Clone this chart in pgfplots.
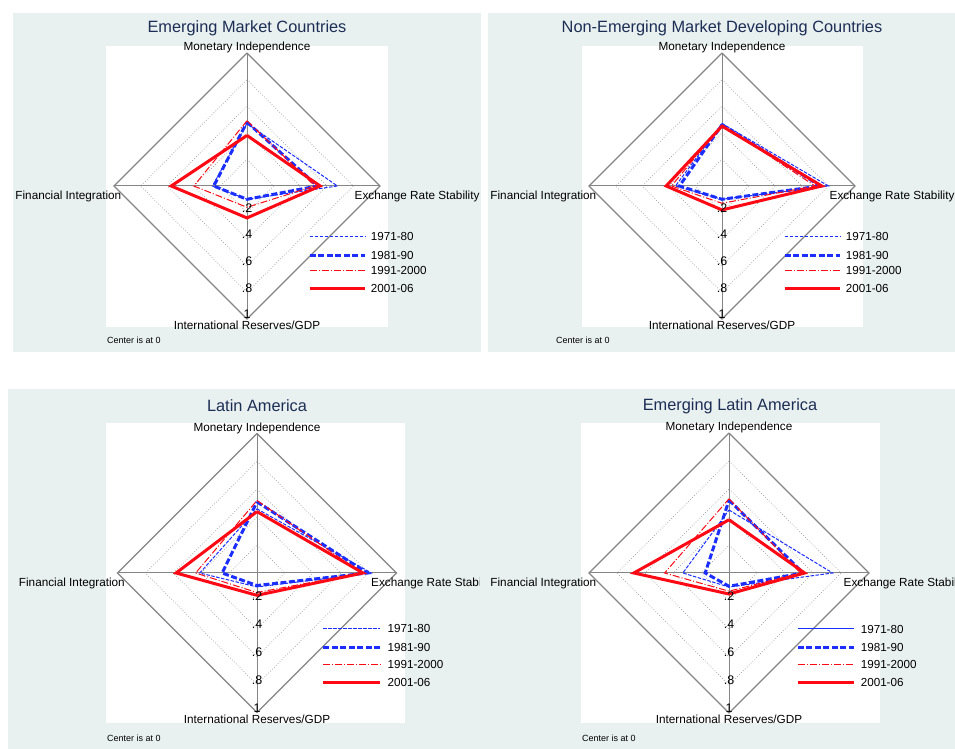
\documentclass[border=0pt]{standalone}
\usepackage{fontspec}
\setmainfont{Liberation Sans}
\usepackage{pgfplots}
\pgfplotsset{compat=1.18}

\definecolor{panelbg}{HTML}{E8F1F0}
\definecolor{titleblue}{HTML}{1E2D55}
\definecolor{sblue}{HTML}{1A2EFF}
\definecolor{sred}{HTML}{FF0A14}
\definecolor{gridc}{HTML}{9A9A9A}
\definecolor{framec}{HTML}{858585}

\tikzset{
  ptitle/.style={font=\fontsize{16.4}{18}\selectfont, text=titleblue, anchor=center, inner sep=0pt},
  note/.style={font=\fontsize{9}{10}\selectfont, anchor=west, inner sep=0pt},
  lab/.style={font=\fontsize{11.8}{13}\selectfont, inner sep=0.5bp},
  tick/.style={font=\fontsize{12.5}{13}\selectfont, inner sep=0pt, anchor=south},
  leg/.style={font=\fontsize{11.7}{13}\selectfont, inner sep=0pt, anchor=west},
}

\pgfplotsset{
  radar/.style={
    scale only axis, width=#1, height=#1,
    xmin=-1, xmax=1, ymin=-1, ymax=1,
    axis lines=none, clip=false, anchor=center,
  },
  p71/.style={color=sblue, line width=1bp, dash pattern=on 3.5bp off 1.5bp},
  p71solid/.style={color=sblue, line width=1bp},
  p81/.style={color=sblue, line width=3bp, dash pattern=on 6bp off 2.5bp},
  p91/.style={color=sred, line width=1bp, dash pattern=on 7bp off 2bp on 1bp off 2bp},
  p01/.style={color=sred, line width=3bp},
}

% diamond grid, spokes and the four axis names
\newcommand\radargrid{%
  \addplot[gridc, dotted, line width=0.7bp, forget plot] coordinates {(0,0.2) (0.2,0) (0,-0.2) (-0.2,0) (0,0.2)};
  \addplot[gridc, dotted, line width=0.7bp, forget plot] coordinates {(0,0.4) (0.4,0) (0,-0.4) (-0.4,0) (0,0.4)};
  \addplot[gridc, dotted, line width=0.7bp, forget plot] coordinates {(0,0.6) (0.6,0) (0,-0.6) (-0.6,0) (0,0.6)};
  \addplot[gridc, dotted, line width=0.7bp, forget plot] coordinates {(0,0.8) (0.8,0) (0,-0.8) (-0.8,0) (0,0.8)};
  \addplot[framec, line width=1.3bp, forget plot] coordinates {(0,1) (1,0) (0,-1) (-1,0) (0,1)};
  \addplot[framec, line width=1bp, forget plot] coordinates {(-1,0) (1,0)};
  \addplot[framec, line width=1bp, forget plot] coordinates {(0,-1) (0,1)};
  \node[lab, anchor=south, yshift=-1bp] at (axis cs:0,1) {Monetary Independence};
  \node[lab, anchor=north, yshift=-1.5bp] at (axis cs:0,-1) {International Reserves/GDP};
  \node[lab, anchor=north west, xshift=-26bp, yshift=-4bp] at (axis cs:1,0) {Exchange Rate Stability};
  \node[lab, anchor=north east, xshift=8bp, yshift=-4bp] at (axis cs:-1,0) {Financial Integration};
}
\newcommand\radarticks{%
  \node[tick] at (axis cs:0,-0.2) {.2};
  \node[tick] at (axis cs:0,-0.4) {.4};
  \node[tick] at (axis cs:0,-0.6) {.6};
  \node[tick] at (axis cs:0,-0.8) {.8};
  \node[tick] at (axis cs:0,-1) {1};
}
% legend key: #1 line start, #2 line end, #3 text x, #4-#7 row y, #8 style of the first key
\newcommand\radarlegend[8]{%
  \addplot[#8, forget plot] coordinates {(#1,#4) (#2,#4)};
  \addplot[p81, forget plot] coordinates {(#1,#5) (#2,#5)};
  \addplot[p91, forget plot] coordinates {(#1,#6) (#2,#6)};
  \addplot[p01, forget plot] coordinates {(#1,#7) (#2,#7)};
  \node[leg] at (axis cs:#3,#4) {1971-80};
  \node[leg] at (axis cs:#3,#5) {1981-90};
  \node[leg] at (axis cs:#3,#6) {1991-2000};
  \node[leg] at (axis cs:#3,#7) {2001-06};
}

\begin{document}
\begin{tikzpicture}
\useasboundingbox (0bp,0bp) rectangle (955bp,749bp);
\fill[white] (0bp,0bp) rectangle (955bp,749bp);

% ---- Emerging Market Countries
\begin{scope}
\clip (13bp,397bp) rectangle (481bp,736bp);
\fill[panelbg] (13bp,397bp) rectangle (481bp,736bp);
\fill[white] (106bp,422bp) rectangle (388bp,703bp);
\node[ptitle] at (247bp,721bp) {Emerging Market Countries};
\node[note] at (107bp,409bp) {Center is at 0};
\begin{axis}[radar=266bp, at={(247bp,563bp)}]
  \radargrid
  \addplot[p71] coordinates {(0,0.47) (0.68,0) (0,-0.10) (-0.26,0) (0,0.47)};
  \addplot[p81] coordinates {(0,0.48) (0.53,0) (0,-0.10) (-0.25,0) (0,0.48)};
  \addplot[p91] coordinates {(0,0.49) (0.51,0) (0,-0.16) (-0.40,0) (0,0.49)};
  \addplot[p01] coordinates {(0,0.38) (0.55,0) (0,-0.24) (-0.57,0) (0,0.38)};
  \radarlegend{0.47}{0.89}{0.93}{-0.383}{-0.519}{-0.639}{-0.767}{p71}
  \radarticks
\end{axis}
\end{scope}

% ---- Non-Emerging Market Developing Countries
\begin{scope}
\clip (488bp,397bp) rectangle (955bp,736bp);
\fill[panelbg] (488bp,397bp) rectangle (955bp,736bp);
\fill[white] (582bp,422bp) rectangle (863bp,703bp);
\node[ptitle] at (722bp,721bp) {Non-Emerging Market Developing Countries};
\node[note] at (556bp,409bp) {Center is at 0};
\begin{axis}[radar=266bp, at={(722bp,563bp)}]
  \radargrid
  \addplot[p71] coordinates {(0,0.47) (0.80,0) (0,-0.10) (-0.35,0) (0,0.47)};
  \addplot[p81] coordinates {(0,0.46) (0.74,0) (0,-0.10) (-0.32,0) (0,0.46)};
  \addplot[p91] coordinates {(0,0.46) (0.70,0) (0,-0.13) (-0.38,0) (0,0.46)};
  \addplot[p01] coordinates {(0,0.45) (0.75,0) (0,-0.18) (-0.42,0) (0,0.45)};
  \radarlegend{0.47}{0.89}{0.93}{-0.383}{-0.519}{-0.639}{-0.767}{p71}
  \radarticks
\end{axis}
\end{scope}

% ---- Latin America
\begin{scope}
\clip (8bp,0bp) rectangle (480bp,360bp);
\fill[panelbg] (8bp,0bp) rectangle (480bp,360bp);
\fill[white] (106bp,26bp) rectangle (405bp,326bp);
\node[ptitle] at (257bp,343bp) {Latin America};
\node[note] at (107bp,11bp) {Center is at 0};
\begin{axis}[radar=279bp, at={(257bp,176bp)}]
  \radargrid
  \addplot[p71] coordinates {(0,0.46) (0.82,0) (0,-0.10) (-0.41,0) (0,0.46)};
  \addplot[p81] coordinates {(0,0.51) (0.79,0) (0,-0.09) (-0.25,0) (0,0.51)};
  \addplot[p91] coordinates {(0,0.52) (0.75,0) (0,-0.14) (-0.44,0) (0,0.52)};
  \addplot[p01] coordinates {(0,0.44) (0.76,0) (0,-0.16) (-0.58,0) (0,0.44)};
  \radarlegend{0.475}{0.885}{0.935}{-0.40}{-0.533}{-0.655}{-0.785}{p71}
  \radarticks
\end{axis}
\end{scope}

% ---- Emerging Latin America
\begin{scope}
\clip (480bp,0bp) rectangle (955bp,360bp);
\fill[panelbg] (480bp,0bp) rectangle (955bp,360bp);
\fill[white] (581bp,26bp) rectangle (880bp,326bp);
\node[ptitle] at (730bp,343bp) {Emerging Latin America};
\node[note] at (582bp,11bp) {Center is at 0};
\begin{axis}[radar=280bp, at={(729bp,176bp)}]
  \radargrid
  \addplot[p71] coordinates {(0,0.45) (0.74,0) (0,-0.10) (-0.33,0) (0,0.45)};
  \addplot[p81] coordinates {(0,0.52) (0.53,0) (0,-0.095) (-0.17,0) (0,0.52)};
  \addplot[p91] coordinates {(0,0.53) (0.51,0) (0,-0.13) (-0.46,0) (0,0.53)};
  \addplot[p01] coordinates {(0,0.38) (0.54,0) (0,-0.15) (-0.68,0) (0,0.38)};
  \radarlegend{0.49}{0.89}{0.94}{-0.40}{-0.533}{-0.655}{-0.785}{p71solid}
  \radarticks
\end{axis}
\end{scope}
\end{tikzpicture}
\end{document}
